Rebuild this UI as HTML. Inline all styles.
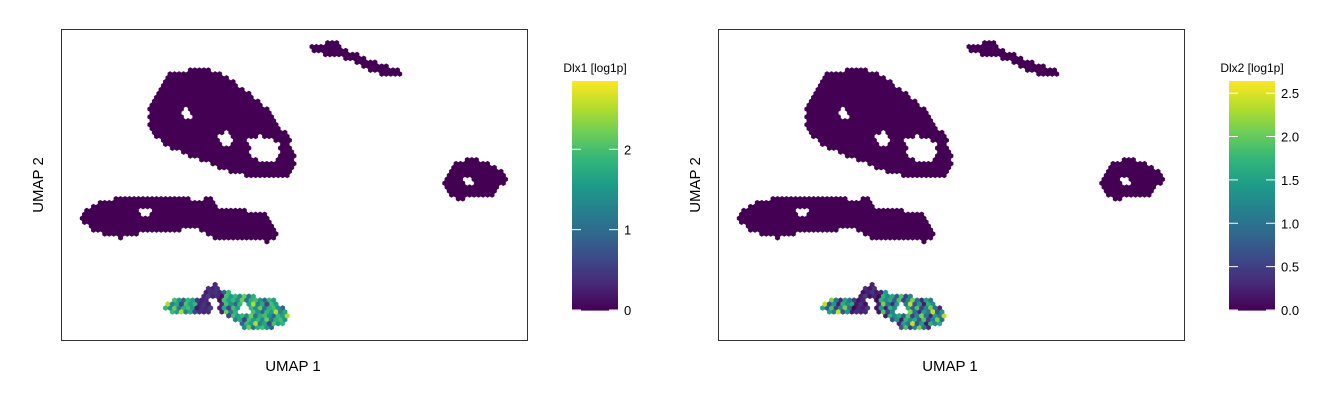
<!DOCTYPE html>
<html><head><meta charset="utf-8"><style>
body{margin:0;background:#fff;font-family:"Liberation Sans",sans-serif}
svg text{font-family:"Liberation Sans",sans-serif;fill:#000}
</style></head><body>
<svg id="c" width="1344" height="403"></svg>
<script>
// Cluster outlines in UMAP-space (pixel units relative to panel 1)
const clusterNames=["top-small","upper-big","right","left-big","bottom"];
const clusterPolys=[
 [[308,48],[320,43],[340,42],[345,50],[360,55],[375,62],[395,68],[403,74],[390,77],[372,72],[355,62],[335,55],[315,54]],
 [[165,75],[200,68],[220,72],[245,90],[270,110],[290,140],[297,165],[285,178],[255,178],[225,170],[195,158],[165,145],[150,130],[148,105],[158,88]],
 [[445,175],[455,162],[475,158],[495,165],[508,178],[495,195],[470,198],[455,200],[442,182]],
 [[80,215],[95,203],[130,196],[170,195],[195,200],[210,198],[220,210],[245,210],[270,215],[278,235],[270,242],[240,240],[215,238],[200,230],[180,230],[150,232],[120,238],[95,232],[82,222]],
 [[162,305],[175,298],[200,298],[205,290],[215,283],[222,292],[240,293],[275,300],[290,315],[285,325],[265,330],[245,328],[230,318],[215,310],[200,315],[175,315],[165,310]]
];
// empty regions inside clusters
const holePolys=[
 [[248,140],[262,135],[280,145],[278,160],[262,162],[250,155]],
 [[215,135],[228,132],[235,142],[222,148]],
 [[180,110],[190,108],[192,118],[182,120]],
 [[463,178],[472,176],[474,185],[464,186]],
 [[140,210],[150,208],[152,216],[142,218]],
 [[205,298],[215,296],[222,306],[212,310]],
 [[238,305],[248,303],[250,312],[240,313]]
];
// expression values (cycled over hex cells in the bottom cluster)
const dlx1Bottom=[1.6,1.9,1.4,2.2,1.1,1.8,2.0,1.5,0.9,1.9,1.6,2.5,1.3,1.7,0.6,2.0];
const dlx2Bottom=[1.3,1.6,0.8,1.9,0.5,1.2,2.1,1.0,0.3,1.5,1.1,2.4,0.7,1.4,0.2,1.7];
const dlx1Ticks=[0,1,2], dlx1Max=2.85;
const dlx2Ticks=[0,0.5,1,1.5,2,2.5], dlx2Max=2.64;
const dlx2Labels=["0.0","0.5","1.0","1.5","2.0","2.5"];

const V=["#440154","#482878","#3e4989","#31688e","#26828e","#1f9e89","#35b779","#6ece58","#b5de2b","#fde725"];
function vir(t){t=Math.max(0,Math.min(1,t))*9;const i=Math.min(8,Math.floor(t)),f=t-i;
 const a=V[i],b=V[i+1];const p=k=>parseInt(a.substr(k,2),16)*(1-f)+parseInt(b.substr(k,2),16)*f;
 return `rgb(${p(1)|0},${p(3)|0},${p(5)|0})`;}
function inPoly(x,y,P){let c=false;for(let i=0,j=P.length-1;i<P.length;j=i++){const[xi,yi]=P[i],[xj,yj]=P[j];
 if((yi>y)!=(yj>y)&&x<(xj-xi)*(y-yi)/(yj-yi)+xi)c=!c;}return c;}
const NS="http://www.w3.org/2000/svg",svg=document.getElementById('c');
function el(t,a,p){const e=document.createElementNS(NS,t);for(const k in a)e.setAttribute(k,a[k]);(p||svg).appendChild(e);return e;}

function panel(off,name,vals,max,ticks,labels){
 const g=el('g',{});
 
 
 const r=2.6,dx=r*Math.sqrt(3),dy=r*1.5;
 clusterPolys.forEach((P,ci)=>{
  const cg=el('g',{},g);
  
  
  let d={},k=0;
  for(let row=0;row<90;row++){const y=35+row*dy;
   for(let col=0;col<110;col++){const x=62+col*dx+(row%2?dx/2:0);
    if(!inPoly(x,y,P))continue;
    if(holePolys.some(H=>inPoly(x,y,H)))continue;
    let v=0;
    if(ci===4){v=vals[k%vals.length];if(x>197&&x<222&&y<315)v=v*0.2;k++;}
    const c=vir(v/max);
    const pts=[];for(let a=0;a<6;a++){const an=Math.PI/3*a+Math.PI/6;pts.push((x+off+r*Math.cos(an)).toFixed(1)+','+(y+r*Math.sin(an)).toFixed(1));}
    (d[c]=d[c]||[]).push('M'+pts.join('L')+'Z');
   }}
  for(const c in d){const p=el('path',{d:d[c].join(''),fill:c,stroke:c,'stroke-width':0.4},cg);
   
   }
 });
 const fr=el('rect',{x:61.5+off,y:29.5,width:466,height:311,fill:'none',stroke:'#333','stroke-width':1},g);
 
 const xl=el('text',{x:293+off,y:371,'font-size':15,'text-anchor':'middle'},g);xl.textContent='UMAP 1';
 
 const yl=el('text',{x:0,y:0,'font-size':15,'text-anchor':'middle',transform:`translate(${43+off},185) rotate(-90)`},g);yl.textContent='UMAP 2';
 
 // colorbar
 const cb=el('g',{},g);
 
 const top=81,bot=310,cx=572+off,w=46;
 for(let i=0;i<100;i++){el('rect',{x:cx,y:bot-(i+1)*(bot-top)/100,width:w,height:(bot-top)/100+0.6,fill:vir((i+0.5)/100)},cb);}
 ticks.forEach((t,i)=>{const y=bot-t/max*(bot-top);
  el('line',{x1:cx,x2:cx+9,y1:y,y2:y,stroke:'#fff','stroke-width':1},cb);
  el('line',{x1:cx+w-9,x2:cx+w,y1:y,y2:y,stroke:'#fff','stroke-width':1},cb);
  const tx=el('text',{x:cx+w+6,y:y+5,'font-size':13},cb);tx.textContent=labels[i];
  });
 const ct=el('text',{x:cx+w/2,y:72,'font-size':12,'text-anchor':'middle'},cb);ct.textContent=name+' [log1p]';
 
}
panel(0,'Dlx1',dlx1Bottom,dlx1Max,dlx1Ticks,dlx1Ticks.map(String));
panel(657,'Dlx2',dlx2Bottom,dlx2Max,dlx2Ticks,dlx2Labels);
</script>
</body></html>
